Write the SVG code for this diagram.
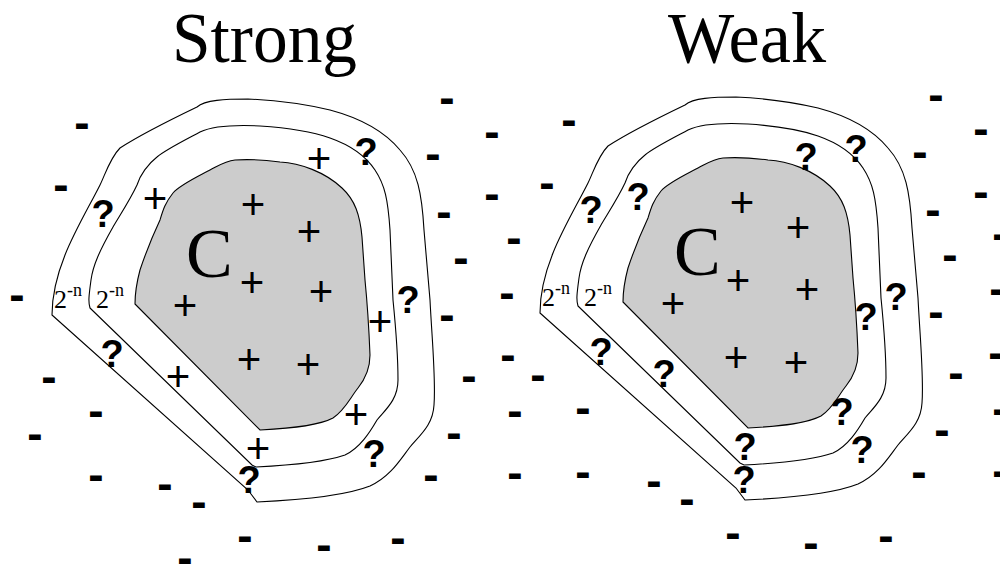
<svg xmlns="http://www.w3.org/2000/svg" width="1000" height="565" viewBox="0 0 1000 565">
<style>
.t{font-family:"Liberation Serif","Times New Roman",serif;fill:#000}
.c{fill:none;stroke:#000;stroke-width:1.1}
.g{fill:#cccccc;stroke:#000;stroke-width:1.1}
.p{font-family:"Liberation Sans",Arial,sans-serif;font-size:42px;text-anchor:middle}
.q{font-family:"Liberation Sans",Arial,sans-serif;font-weight:bold;font-size:38px;text-anchor:middle}
.m{font-family:"Liberation Sans",Arial,sans-serif;font-weight:bold;font-size:46px;text-anchor:middle}
.n{font-family:"Liberation Serif","Times New Roman",serif;font-size:26px}
.s{font-size:18px}
</style>
<defs>
<g id="rings">
<path class="c" d="M52,315 L248,490 L257,502 C300,500 345,496 370,486 C390,477 400,460 410,447 C420,435 433,425 434,405 C436,380 432,340 430,300 L424,230 C422,195 418,170 400,150 C385,132 360,118 330,110 C300,103 270,100 248,99 C225,99 205,100 197,107 C170,120 140,135 120,148 C110,158 105,175 100,185 C90,205 75,230 65,255 C55,280 52,300 52,315 Z"/>
<path class="c" d="M90,308 L252,465 L256,467 C297,465 325,462 345,455 C360,448 370,432 377,420 C385,410 398,400 398,380 C398,360 396,330 393,300 L390,230 C388,200 385,185 375,170 C365,155 350,145 330,138 C310,131 290,128 260,126 C240,125 215,125 200,132 C185,140 165,150 157,157 C148,164 140,175 137,185 C130,200 120,215 113,227 C100,250 93,265 91,280 C89,295 88,302 90,308 Z"/>
<path class="g" d="M135,304 L260,430 C297,428 320,425 333,418 C345,410 350,398 358,388 C366,378 370,368 370,355 C369,330 367,300 365,280 L362,237 C360,215 355,200 342,188 C325,172 300,163 280,162 C265,160 250,159 235,160 C225,161 218,166 210,170 C195,178 180,185 173,193 C165,203 163,210 160,220 C153,235 145,255 140,270 C136,285 135,295 135,304 Z"/>
</g>
</defs>
<text class="t" x="172" y="62" font-size="72" textLength="185" lengthAdjust="spacingAndGlyphs">Strong</text>
<text class="t" x="668" y="62" font-size="72" textLength="158" lengthAdjust="spacingAndGlyphs">Weak</text>
<g id="strong">
<use href="#rings"/>
<text class="t" x="186" y="277" font-size="70">C</text>
<text class="n" x="54" y="308">2<tspan class="s" dy="-12">-n</tspan></text>
<text class="n" x="96" y="308">2<tspan class="s" dy="-12">-n</tspan></text>
<g class="p">
<text x="155" y="213">+</text><text x="253" y="219">+</text><text x="309" y="246">+</text><text x="252" y="297">+</text><text x="321" y="306">+</text><text x="185" y="320">+</text><text x="380" y="336">+</text><text x="249" y="374">+</text><text x="308" y="379">+</text><text x="178" y="391">+</text><text x="356" y="429">+</text><text x="258" y="463">+</text><text x="319" y="173">+</text>
</g>
<g class="q">
<text x="103" y="227">?</text><text x="366" y="165">?</text><text x="408" y="313">?</text><text x="112" y="367">?</text><text x="374" y="467">?</text><text x="249" y="493">?</text>
</g>
</g>
<g id="weak">
<use href="#rings" transform="translate(488,-2)"/>
<text class="t" x="674" y="275" font-size="70">C</text>
<text class="n" x="542" y="306">2<tspan class="s" dy="-12">-n</tspan></text>
<text class="n" x="584" y="306">2<tspan class="s" dy="-12">-n</tspan></text>
<g class="p">
<text x="742" y="217">+</text><text x="798" y="242">+</text><text x="738" y="295">+</text><text x="807" y="304">+</text><text x="673" y="318">+</text><text x="736" y="372">+</text><text x="796" y="377">+</text>
</g>
<g class="q">
<text x="591" y="223">?</text><text x="638" y="210">?</text><text x="806" y="170">?</text><text x="856" y="162">?</text><text x="896" y="310">?</text><text x="866" y="330">?</text><text x="601" y="365">?</text><text x="664" y="387">?</text><text x="842" y="425">?</text><text x="862" y="463">?</text><text x="745" y="460">?</text><text x="744" y="493">?</text>
</g>
</g>
<g id="negatives" class="m">
<text x="82" y="138">-</text><text x="61" y="200">-</text><text x="17" y="310">-</text><text x="447" y="113">-</text><text x="492" y="147">-</text><text x="433" y="169">-</text><text x="492" y="209">-</text><text x="444" y="227">-</text><text x="461" y="273">-</text><text x="447" y="330">-</text><text x="49" y="392">-</text><text x="96" y="426">-</text><text x="35" y="449">-</text><text x="96" y="490">-</text><text x="165" y="499">-</text><text x="199" y="517">-</text><text x="245" y="551">-</text><text x="185" y="573">-</text><text x="469" y="391">-</text><text x="454" y="448">-</text><text x="431" y="490">-</text><text x="324" y="560">-</text><text x="398" y="553">-</text>
<text x="569" y="135">-</text><text x="547" y="198">-</text><text x="514" y="253">-</text><text x="507" y="308">-</text><text x="936" y="110">-</text><text x="981" y="144">-</text><text x="920" y="167">-</text><text x="981" y="207">-</text><text x="933" y="225">-</text><text x="950" y="270">-</text><text x="1000" y="249">-</text><text x="997" y="304">-</text><text x="936" y="327">-</text><text x="508" y="370">-</text><text x="538" y="390">-</text><text x="515" y="426">-</text><text x="583" y="423">-</text><text x="515" y="488">-</text><text x="583" y="487">-</text><text x="654" y="496">-</text><text x="687" y="514">-</text><text x="733" y="548">-</text><text x="996" y="368">-</text><text x="956" y="388">-</text><text x="1000" y="424">-</text><text x="942" y="445">-</text><text x="919" y="487">-</text><text x="1000" y="486">-</text><text x="811" y="558">-</text><text x="886" y="551">-</text>
</g>
</svg>
